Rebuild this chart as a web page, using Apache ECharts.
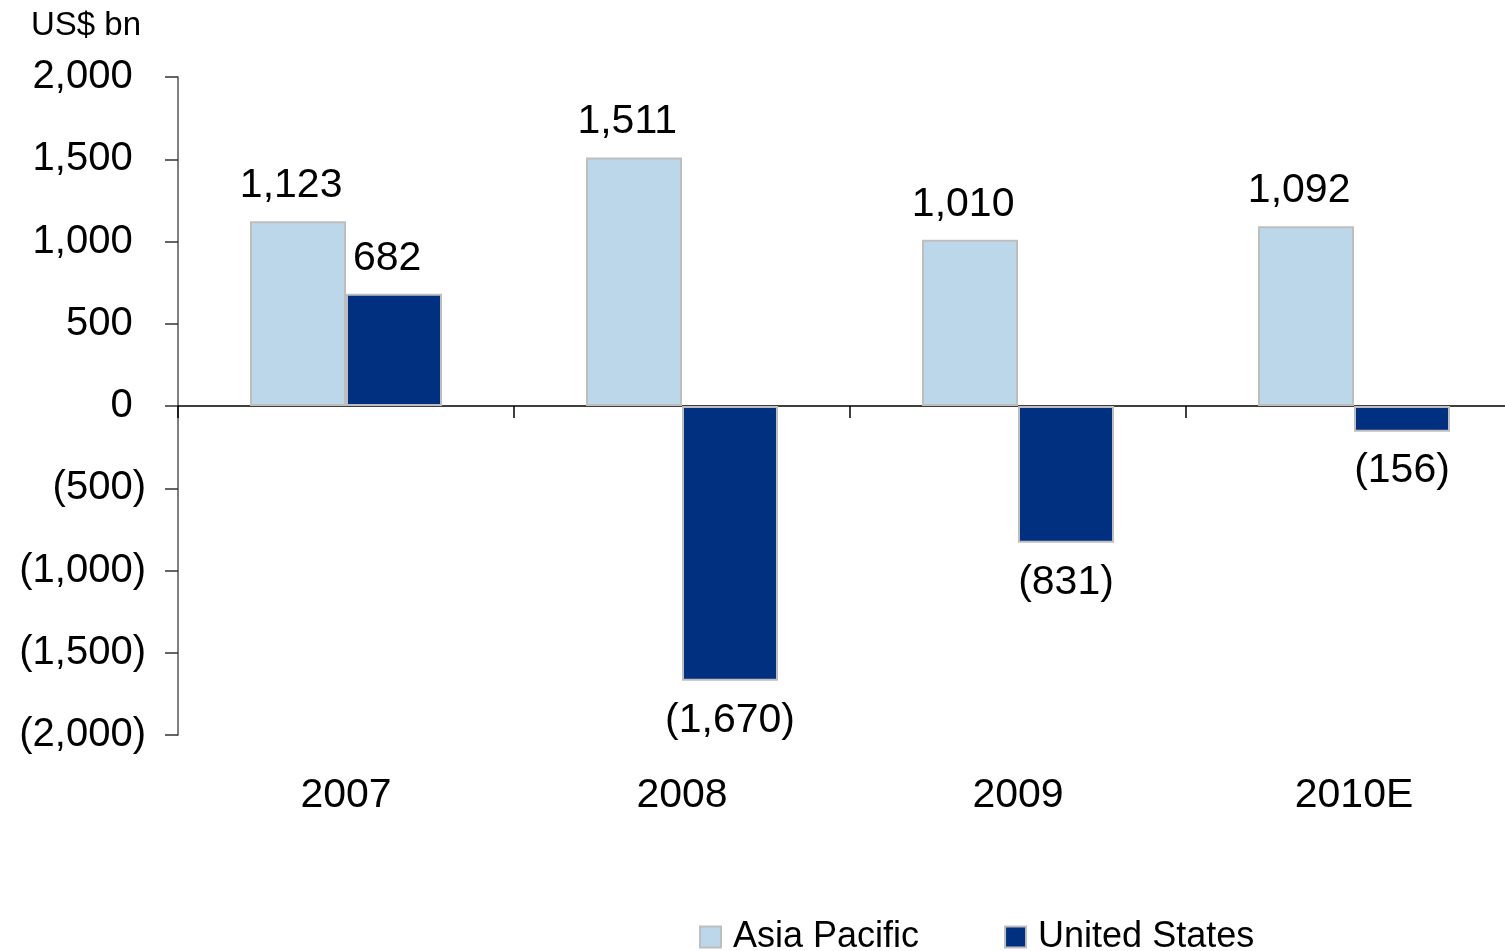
<!DOCTYPE html>
<html>
<head>
<meta charset="utf-8">
<script src="https://cdn.jsdelivr.net/npm/echarts@6/dist/echarts.min.js"></script>
<style>
  html, body { margin: 0; padding: 0; background: #fff; }
  #chart { width: 1505px; height: 951px; }
</style>
</head>
<body>
<div id="chart"></div>
<script>
const categories = ['2007', '2008', '2009', '2010E'];
const asiaPacific = [1123, 1511, 1010, 1092];
const unitedStates = [682, -1670, -831, -156];
const yTicks = [-2000, -1500, -1000, -500, 0, 500, 1000, 1500, 2000];

const FONT = '"Liberation Sans", Arial, Helvetica, sans-serif';

// Accounting-style number: negatives in parentheses, positives padded
// with an invisible ")" so digits line up.
function acct(v) {
  const s = Math.abs(v).toLocaleString('en-US');
  return v < 0 ? '{n|(' + s + ')}' : '{n|' + s + '}{h|)}';
}
const rich = (size) => ({
  n: { fontFamily: FONT, fontSize: size, color: '#000' },
  h: { fontFamily: FONT, fontSize: size, color: 'rgba(0,0,0,0)' }
});

const chart = echarts.init(document.getElementById('chart'), null, { renderer: 'canvas' });

const barLabel = {
  show: true,
  position: 'top',
  distance: 15,
  formatter: (p) => acct(p.value),
  rich: rich(41)
};

// Positive values labelled above the bar, negative ones below it.
const withLabelSide = (values) => values.map((v) => ({
  value: v,
  label: v < 0 ? { position: 'bottom', distance: 19 } : { position: 'top', distance: 15 }
}));

chart.setOption({
  animation: false,
  backgroundColor: '#ffffff',
  title: {
    text: 'US$ bn',
    left: 26,
    top: 4,
    textStyle: { fontFamily: FONT, fontSize: 33, fontWeight: 'normal', color: '#000' }
  },
  legend: {
    left: 694,
    top: 914,
    itemWidth: 21,
    itemHeight: 21,
    itemGap: 85,
    icon: 'rect',
    textStyle: { fontFamily: FONT, fontSize: 36, color: '#000', padding: [0, 0, 0, 7] },
    data: ['Asia Pacific', 'United States']
  },
  grid: {
    left: 178, right: -17, top: 77, bottom: 216,
    containLabel: false,
    outerBoundsMode: 'none'
  },
  xAxis: [
    {
      type: 'category',
      data: categories,
      position: 'bottom',
      axisLine: { onZero: true, lineStyle: { color: '#000', width: 1.5 } },
      axisTick: { show: true, length: 12, lineStyle: { color: '#000', width: 1.5 } },
      axisLabel: { show: false },
      splitLine: { show: false }
    },
    {
      type: 'category',
      data: categories,
      position: 'bottom',
      axisLine: { show: false, onZero: false },
      axisTick: { show: false },
      axisLabel: {
        show: true,
        margin: 40,
        fontFamily: FONT,
        fontSize: 41,
        color: '#000'
      },
      splitLine: { show: false }
    }
  ],
  yAxis: {
    type: 'value',
    min: yTicks[0],
    max: yTicks[yTicks.length - 1],
    interval: 500,
    axisLine: { show: true, lineStyle: { color: '#555', width: 1.5 } },
    axisTick: { show: true, inside: false, length: 13, lineStyle: { color: '#333', width: 1.5 } },
    splitLine: { show: false },
    axisLabel: {
      margin: 32,
      formatter: (v) => acct(v),
      rich: rich(40)
    }
  },
  series: [
    {
      name: 'Asia Pacific',
      type: 'bar',
      xAxisIndex: 0,
      data: withLabelSide(asiaPacific),
      barWidth: 96,
      barGap: '0%',
      itemStyle: { color: '#BDD7EA', borderColor: '#BEBEBE', borderWidth: 2 },
      label: barLabel
    },
    {
      name: 'United States',
      type: 'bar',
      xAxisIndex: 0,
      data: withLabelSide(unitedStates),
      barWidth: 96,
      barGap: '0%',
      itemStyle: { color: '#00307F', borderColor: '#BEBEBE', borderWidth: 2 },
      label: barLabel
    }
  ]
});
</script>
</body>
</html>
